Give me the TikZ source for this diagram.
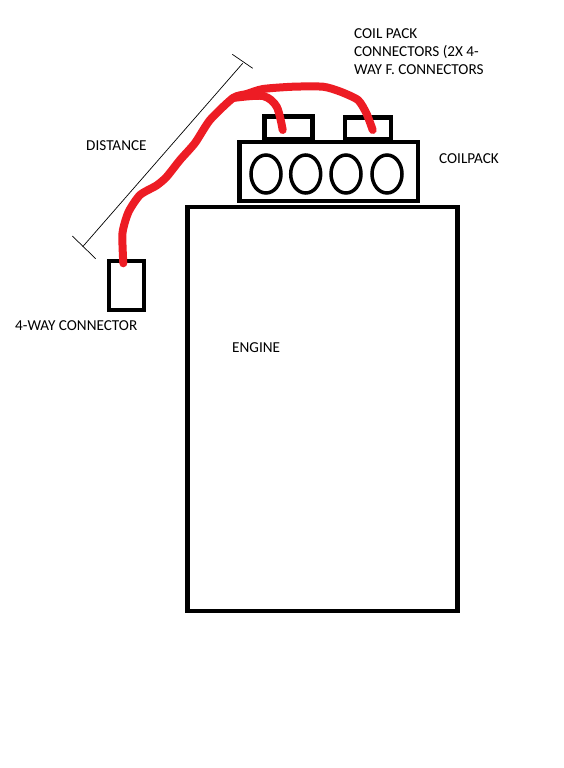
\documentclass[tikz,border=0pt]{standalone}
\usepackage{fontspec}
\setmainfont{Carlito}
\usepackage{xcolor}
\usepackage{tikz}
\usetikzlibrary{shapes.geometric, positioning}
\definecolor{wirered}{RGB}{237,28,36}

\begin{document}
\begin{tikzpicture}[x=1pt, y=-1pt, every node/.style={font=\fontsize{15.2}{18}\selectfont},
	box/.style={draw, line width=4.5pt, inner sep=0pt, minimum width=#1},
	coil/.style={draw, ellipse, line width=3.5pt, inner sep=0pt, minimum width=30pt, minimum height=38pt},
	label/.style={align=left, inner sep=0pt},
	wire/.style={wirered, line width=8pt, line cap=round, line join=round}]
	\useasboundingbox (0,0) rectangle (564,768);

	\node (engine) [box=270pt, minimum height=404pt] at (322.5,409) {};
	\node (pack) [box=178.5pt, minimum height=59pt] at (328.7,171.5) {};
	\node (plugA) [box=48pt, minimum height=23pt] at (288.5,128) {};
	\node (plugB) [box=46pt, minimum height=22pt] at (368,128.5) {};
	\node (way) [box=35pt, minimum height=49pt] at (126.5,285.5) {};

	\node (c1) [coil] at (266,174) {};
	\node (c2) [coil] at (305.7,174) {};
	\node (c3) [coil] at (346,174) {};
	\node (c4) [coil] at (387,174) {};

	\coordinate (dA) at (82.7,246.7);
	\coordinate (dB) at (242.7,63.3);
	\draw[line width=0.7pt] (dA) -- (dB);
	\draw[line width=0.7pt] (72.3,236) -- (95.7,258.7);
	\draw[line width=0.7pt] (232.3,54.3) -- (252.7,68.3);

	% wire runs
	\coordinate (wayEnd) at (123.3,263.3);
	\coordinate (fork) at (233,98);
	\coordinate (endA) at (282.7,130);
	\coordinate (endB) at (372.7,130);
	\draw[wire] plot[smooth, tension=0.4] coordinates {(wayEnd) (122.5,233) (128.5,212) (140,195) (156.5,185.5) (166.5,177) (180,160) (195,143) (210,120) (fork) (246.5,94) (263,89) (293,86.7) (323,86.7) (340,91.5) (358,100) (366.5,113.5) (endB)};
	\draw[wire] plot[smooth, tension=0.5] coordinates {(fork) (263,96) (276.7,106.7) (endA)};

	\node (tPlugs) [label, anchor=north west] at (354,28) {COIL PACK\\CONNECTORS (2X 4-\\WAY F. CONNECTORS};
	\node (tDist) [label, anchor=west] at (86,145.5) {DISTANCE};
	\node (tPack) [label, anchor=west] at (439,158.5) {COILPACK};
	\node (tWay) [label, anchor=west] at (15,325.5) {4-WAY CONNECTOR};
	\node (tEngine) [label, anchor=west] at (232,347.5) {ENGINE};
\end{tikzpicture}
\end{document}
